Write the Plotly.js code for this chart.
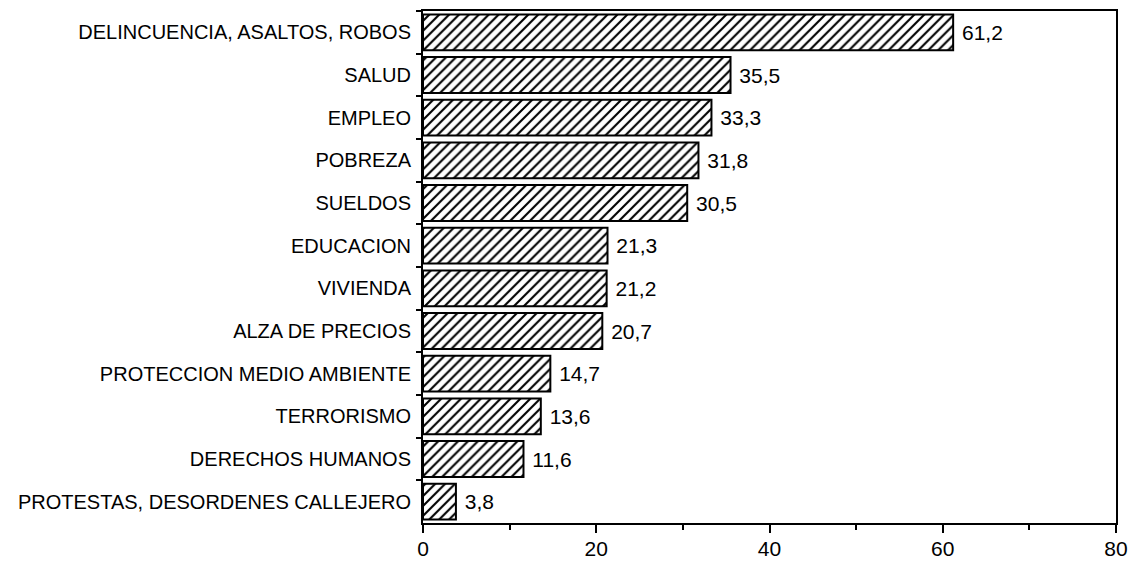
<!DOCTYPE html>
<html>
<head>
<meta charset="utf-8">
<script src="https://cdn.plot.ly/plotly-3.0.1.min.js"></script>
<style>html,body{margin:0;padding:0;background:#fff;}#chart{width:1129px;height:562px;}</style>
</head>
<body>
<div id="chart"></div>
<script>
const categories = [
  "DELINCUENCIA, ASALTOS, ROBOS",
  "SALUD",
  "EMPLEO",
  "POBREZA",
  "SUELDOS",
  "EDUCACION",
  "VIVIENDA",
  "ALZA DE PRECIOS",
  "PROTECCION MEDIO AMBIENTE",
  "TERRORISMO",
  "DERECHOS HUMANOS",
  "PROTESTAS, DESORDENES CALLEJERO"
];
const values = [61.2, 35.5, 33.3, 31.8, 30.5, 21.3, 21.2, 20.7, 14.7, 13.6, 11.6, 3.8];
const xTicks = [0, 20, 40, 60, 80];

const trace = {
  type: 'bar',
  orientation: 'h',
  y: categories,
  x: values,
  marker: {
    color: '#ffffff',
    line: {color: '#000000', width: 2},
    pattern: {shape: '/', fgcolor: '#000000', bgcolor: '#ffffff', size: 7, solidity: 0.3}
  },
  texttemplate: '\u00a0%{x:.1f}',
  textposition: 'outside',
  cliponaxis: false,
  textfont: {family: 'Liberation Sans, Arial, sans-serif', size: 21, color: '#000'},
  hoverinfo: 'none'
};

const layout = {
  width: 1129,
  height: 562,
  margin: {l: 423, r: 13, t: 11, b: 39},
  paper_bgcolor: '#ffffff',
  plot_bgcolor: '#ffffff',
  separators: ',.',
  bargap: 0.16,
  showlegend: false,
  font: {family: 'Liberation Sans, Arial, sans-serif', size: 20, color: '#000'},
  xaxis: {
    range: [0, 80],
    tickvals: xTicks,
    ticktext: xTicks.map(String),
    ticks: 'outside',
    ticklen: 8,
    tickwidth: 2,
    tickcolor: '#000',
    showline: true,
    linewidth: 2,
    linecolor: '#000',
    mirror: true,
    showgrid: false,
    zeroline: false,
    tickfont: {size: 21},
    ticklabelstandoff: -2,
    minor: {dtick: 10, tick0: 0, ticks: 'outside', ticklen: 5, tickwidth: 2, tickcolor: '#000', showgrid: false}
  },
  yaxis: {
    type: 'category',
    categoryorder: 'array',
    categoryarray: categories,
    autorange: 'reversed',
    tickson: 'boundaries',
    ticks: 'outside',
    ticklen: 5,
    tickwidth: 2,
    tickcolor: '#000',
    showline: true,
    linewidth: 2,
    linecolor: '#000',
    mirror: true,
    showgrid: false,
    zeroline: false,
    tickfont: {size: 20},
    ticklabelstandoff: 6
  }
};

Plotly.newPlot('chart', [trace], layout, {staticPlot: true, displayModeBar: false});
</script>
</body>
</html>
